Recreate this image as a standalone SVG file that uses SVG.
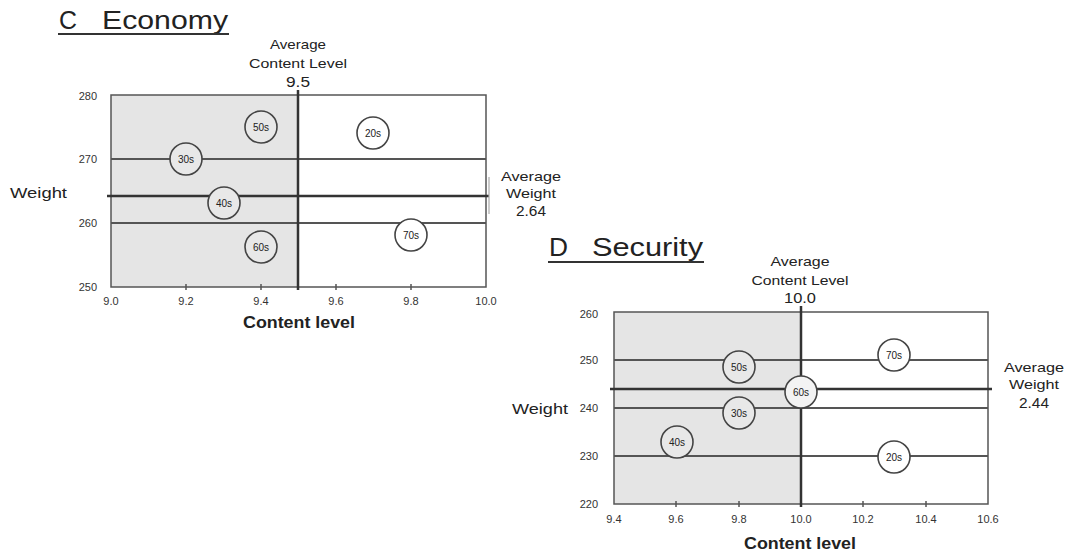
<svg xmlns="http://www.w3.org/2000/svg" width="1070" height="554" viewBox="0 0 1070 554">
<style>
text{font-family:"Liberation Sans",Arial,sans-serif;fill:#222}
.title{font-size:26px}
.lbl{font-size:13px;text-anchor:middle}
.tk{font-size:11px;fill:#333}
.tky{font-size:11px;fill:#333;text-anchor:end}
.tkx{font-size:11px;fill:#333;text-anchor:middle}
.ax{font-size:16px;font-weight:bold;text-anchor:middle}
.wt{font-size:15px}
.shade{fill:#e5e5e5;stroke:none}
.frame{fill:none;stroke:#555;stroke-width:1.5}
.grid{stroke:#555;stroke-width:2}
.avg{stroke:#333;stroke-width:2.5}
.tick{stroke:#555;stroke-width:1.5}
.ul{stroke:#333;stroke-width:2}
.node circle{stroke:#444;stroke-width:1.6}
.node text{font-size:10px;text-anchor:middle}
.g{fill:#e8e8e8}
.w{fill:#fff}
</style>

<!-- Chart C -->
<g id="chartC">
<text class="title" y="29"><tspan x="59" textLength="18" lengthAdjust="spacingAndGlyphs">C</tspan><tspan x="102" textLength="126" lengthAdjust="spacingAndGlyphs">Economy</tspan></text>
<line class="ul" x1="58" y1="34" x2="229" y2="34"/>
<rect class="shade" x="111" y="95" width="187" height="192"/>
<text class="lbl" x="298" y="49" textLength="56" lengthAdjust="spacingAndGlyphs">Average</text>
<text class="lbl" x="298" y="68" textLength="98" lengthAdjust="spacingAndGlyphs">Content Level</text>
<text class="lbl" x="298" y="87" style="font-size:14px" textLength="24" lengthAdjust="spacingAndGlyphs">9.5</text>
<text class="lbl" x="531" y="181" textLength="60" lengthAdjust="spacingAndGlyphs">Average</text>
<text class="lbl" x="531" y="198" textLength="50" lengthAdjust="spacingAndGlyphs">Weight</text>
<text class="lbl" x="531" y="216" style="font-size:14px" textLength="30" lengthAdjust="spacingAndGlyphs">2.64</text>
<text class="wt" x="10" y="198" textLength="57" lengthAdjust="spacingAndGlyphs">Weight</text>
<text class="ax" x="299" y="328" textLength="112" lengthAdjust="spacingAndGlyphs">Content level</text>
<text class="tky" x="97" y="100">280</text>
<text class="tky" x="97" y="163">270</text>
<text class="tky" x="97" y="227">260</text>
<text class="tky" x="97" y="291">250</text>
<text class="tkx" x="111" y="305">9.0</text>
<text class="tkx" x="186" y="305">9.2</text>
<text class="tkx" x="261" y="305">9.4</text>
<text class="tkx" x="336" y="305">9.6</text>
<text class="tkx" x="411" y="305">9.8</text>
<text class="tkx" x="486" y="305">10.0</text>
</g>

<g id="connectorsC">
<rect class="frame" x="111" y="95" width="375" height="192"/>
<line class="grid" x1="111" y1="159" x2="486" y2="159"/>
<line class="grid" x1="111" y1="223" x2="486" y2="223"/>
<line class="avg" x1="107" y1="196" x2="489" y2="196"/>
<line class="avg" x1="298" y1="90" x2="298" y2="290"/>
<line x1="489" y1="177" x2="489" y2="214" stroke="#aaa" stroke-width="1.2"/>
<line class="tick" x1="186" y1="284" x2="186" y2="290"/>
<line class="tick" x1="261" y1="284" x2="261" y2="290"/>
<line class="tick" x1="336" y1="284" x2="336" y2="290"/>
<line class="tick" x1="411" y1="284" x2="411" y2="290"/>
</g>

<g id="C-50s" class="node"><circle class="g" cx="261" cy="127" r="16"/><text x="261" y="131">50s</text></g>
<g id="C-20s" class="node"><circle class="w" cx="373" cy="133" r="16"/><text x="373" y="137">20s</text></g>
<g id="C-30s" class="node"><circle class="g" cx="186" cy="159" r="16"/><text x="186" y="163">30s</text></g>
<g id="C-40s" class="node"><circle class="g" cx="224" cy="203" r="16"/><text x="224" y="207">40s</text></g>
<g id="C-60s" class="node"><circle class="g" cx="261" cy="247" r="16"/><text x="261" y="251">60s</text></g>
<g id="C-70s" class="node"><circle class="w" cx="411" cy="235" r="16"/><text x="411" y="239">70s</text></g>

<!-- Chart D -->
<g id="chartD">
<text class="title" y="256"><tspan x="549" textLength="19" lengthAdjust="spacingAndGlyphs">D</tspan><tspan x="592" textLength="111" lengthAdjust="spacingAndGlyphs">Security</tspan></text>
<line class="ul" x1="548" y1="262" x2="704" y2="262"/>
<rect class="shade" x="614" y="312" width="187" height="192"/>
<text class="lbl" x="800" y="266" textLength="59" lengthAdjust="spacingAndGlyphs">Average</text>
<text class="lbl" x="800" y="285" textLength="97" lengthAdjust="spacingAndGlyphs">Content Level</text>
<text class="lbl" x="800" y="303" style="font-size:14px" textLength="32" lengthAdjust="spacingAndGlyphs">10.0</text>
<text class="lbl" x="1034" y="372" textLength="60" lengthAdjust="spacingAndGlyphs">Average</text>
<text class="lbl" x="1034" y="389" textLength="50" lengthAdjust="spacingAndGlyphs">Weight</text>
<text class="lbl" x="1034" y="408" style="font-size:14px" textLength="30" lengthAdjust="spacingAndGlyphs">2.44</text>
<text class="wt" x="512" y="414" textLength="56" lengthAdjust="spacingAndGlyphs">Weight</text>
<text class="ax" x="800" y="549" textLength="112" lengthAdjust="spacingAndGlyphs">Content level</text>
<text class="tky" x="598" y="318">260</text>
<text class="tky" x="598" y="364">250</text>
<text class="tky" x="598" y="412">240</text>
<text class="tky" x="598" y="460">230</text>
<text class="tky" x="598" y="508">220</text>
<text class="tkx" x="614" y="523">9.4</text>
<text class="tkx" x="676" y="523">9.6</text>
<text class="tkx" x="739" y="523">9.8</text>
<text class="tkx" x="801" y="523">10.0</text>
<text class="tkx" x="863" y="523">10.2</text>
<text class="tkx" x="926" y="523">10.4</text>
<text class="tkx" x="988" y="523">10.6</text>
</g>

<g id="connectorsD">
<rect class="frame" x="614" y="312" width="374" height="192"/>
<line class="grid" x1="614" y1="360" x2="988" y2="360"/>
<line class="grid" x1="614" y1="408" x2="988" y2="408"/>
<line class="grid" x1="614" y1="456" x2="988" y2="456"/>
<line class="avg" x1="610" y1="389" x2="992" y2="389"/>
<line class="avg" x1="801" y1="306" x2="801" y2="507"/>
<line class="tick" x1="676" y1="501" x2="676" y2="507"/>
<line class="tick" x1="739" y1="501" x2="739" y2="507"/>
<line class="tick" x1="863" y1="501" x2="863" y2="507"/>
<line class="tick" x1="926" y1="501" x2="926" y2="507"/>
</g>

<g id="D-50s" class="node"><circle class="g" cx="739" cy="367" r="16"/><text x="739" y="371">50s</text></g>
<g id="D-70s" class="node"><circle class="w" cx="894" cy="355" r="16"/><text x="894" y="359">70s</text></g>
<g id="D-60s" class="node"><circle fill="#f3f3f3" cx="801" cy="392" r="16"/><text x="801" y="396">60s</text></g>
<g id="D-30s" class="node"><circle class="g" cx="739" cy="413" r="16"/><text x="739" y="417">30s</text></g>
<g id="D-40s" class="node"><circle class="g" cx="677" cy="442" r="16"/><text x="677" y="446">40s</text></g>
<g id="D-20s" class="node"><circle class="w" cx="894" cy="457" r="16"/><text x="894" y="461">20s</text></g>
</svg>
